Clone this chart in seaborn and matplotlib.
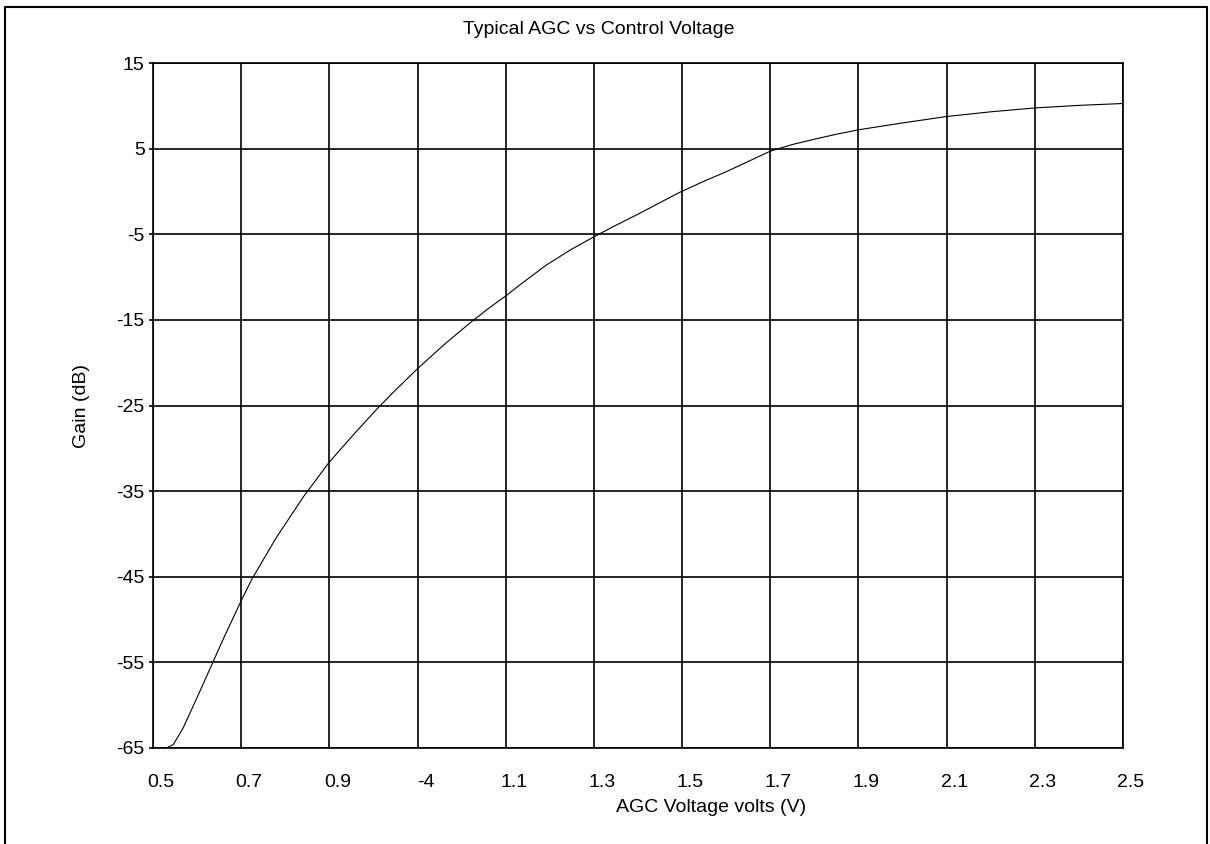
# Typical AGC vs Control Voltage - gain curve redrawn with seaborn

import matplotlib
matplotlib.use("Agg")
import matplotlib.pyplot as plt
from matplotlib.transforms import ScaledTranslation
from matplotlib.lines import Line2D
import seaborn as sns

# --------------------------------------------------
# Data
# --------------------------------------------------

# x tick labels as printed on the chart (category style axis, one per gridline)
x_labels = ["0.5", "0.7", "0.9", "-4", "1.1", "1.3", "1.5", "1.7", "1.9", "2.1", "2.3", "2.5"]
y_ticks = [15, 5, -5, -15, -25, -35, -45, -55, -65]

# curve samples: position along the x axis (0 = first label) and gain in dB
agc_pos = [0.10, 0.15, 0.23, 0.34, 0.50, 0.635, 0.8, 1.0, 1.12, 1.4, 1.71, 2.0,
           2.12, 2.3, 2.54, 2.75, 3.0, 3.3, 3.59, 3.8, 4.0, 4.2, 4.46, 4.73,
           5.0, 5.25, 5.52, 5.75, 5.98, 6.25, 6.5, 6.75, 7.0, 7.25, 7.5, 7.75,
           8.0, 8.5, 9.0, 9.5, 10.0, 10.5, 11.0]
gain_db = [-65.0, -65.0, -64.6, -62.7, -59.1, -56.0, -52.2, -47.8, -45.3, -40.4,
           -35.6, -31.6, -30.2, -28.1, -25.4, -23.2, -20.7, -17.9, -15.4, -13.7,
           -12.2, -10.6, -8.6, -6.85, -5.3, -3.95, -2.55, -1.3, -0.07, 1.2, 2.3,
           3.5, 4.7, 5.48, 6.1, 6.68, 7.2, 8.0, 8.75, 9.3, 9.75, 10.05, 10.27]

# --------------------------------------------------
# Style
# --------------------------------------------------

sns.set_style("white")
plt.rcParams["font.family"] = ["Liberation Sans", "DejaVu Sans"]
plt.rcParams["axes.unicode_minus"] = False
plt.rcParams["text.color"] = "black"
plt.rcParams["axes.labelcolor"] = "black"

fig = plt.figure(figsize=(12.1, 8.44), dpi=100)
ax = fig.add_axes([153 / 1210, 1 - 748 / 844, 970 / 1210, 685 / 844])

# --------------------------------------------------
# Plot
# --------------------------------------------------

sns.lineplot(x=agc_pos, y=gain_db, ax=ax, color="black", linewidth=0.8,
             estimator=None, sort=False)

ax.set_xlim(0, len(x_labels) - 1)
ax.set_ylim(min(y_ticks), max(y_ticks))
ax.set_xticks(range(len(x_labels)))
ax.set_xticklabels(x_labels)
ax.set_yticks(y_ticks)

ax.grid(True, color="black", linewidth=1.2)
for sp in ax.spines.values():
    sp.set_color("black")
    sp.set_linewidth(1.2)

ax.tick_params(axis="x", length=0, pad=19, labelsize=14, colors="black")
ax.tick_params(axis="y", length=3, width=1.2, pad=3, labelsize=14,
               colors="black", left=True)

# labels are printed a little to the right of each gridline
shift = ScaledTranslation(8 / 100, 0, fig.dpi_scale_trans)
for lab in ax.get_xticklabels():
    lab.set_transform(lab.get_transform() + shift)

ax.set_xlabel("AGC Voltage volts (V)", fontsize=14, color="black")
ax.xaxis.set_label_coords((711 - 153) / 970, -0.074)
ax.set_ylabel("Gain (dB)", fontsize=14, color="black")
ax.yaxis.set_label_coords(-0.065, 0.5)

fig.text(599 / 1210, 1 - 29 / 844, "Typical AGC vs Control Voltage",
         ha="center", va="center", fontsize=14, color="black")

# outer frame (left, top, right)
frame_x = [5 / 1210, 5 / 1210, 1207 / 1210, 1207 / 1210]
frame_y = [0, 1 - 7 / 844, 1 - 7 / 844, 0]
fig.add_artist(Line2D(frame_x, frame_y, transform=fig.transFigure,
                      color="black", linewidth=1.5))

fig.savefig("out.png", dpi=100)
